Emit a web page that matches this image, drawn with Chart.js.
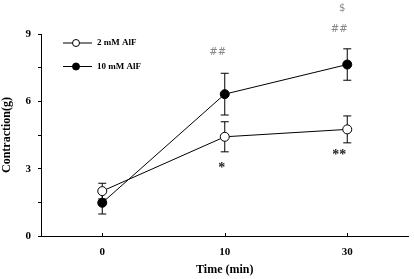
<!DOCTYPE html>
<html>
<head>
<meta charset="utf-8">
<script src="https://cdn.jsdelivr.net/npm/chart.js@4/dist/chart.umd.min.js"></script>
<style>
  html, body { margin: 0; padding: 0; background: #fff; }
  #wrap { width: 414px; height: 279px; }
</style>
</head>
<body>
<div id="wrap"><canvas id="chart" width="414" height="279"></canvas></div>
<script>
const timeLabels = ['0', '10', '30'];
const low = [2.0, 4.42, 4.75];        // 2 mM AlF
const lowErr = [0.35, 0.67, 0.6];
const high = [1.48, 6.32, 7.64];      // 10 mM AlF
const highErr = [0.5, 0.93, 0.7];
const seriesNames = ['2 mM AlF', '10 mM AlF'];

// significance marks: category, value (y units), text, pixel nudge, colour
const marks = [
    { at: '10', y: 8.2, text: '##', dx: -7, dy: 0, color: '#888' },
    { at: '30', y: 9.22, text: '##', dx: -8, dy: 0, color: '#888' },
    { at: '30', y: 10.16, text: '$', dx: -5, dy: 0, color: '#888' },
    { at: '10', y: 3.21, text: '*', dx: -3, dy: 4, color: '#222' },
    { at: '30', y: 3.79, text: '**', dx: -8, dy: 4, color: '#222' }
];

const serif = '"Liberation Serif", "Times New Roman", serif';

const errorBars = {
    id: 'errorBars',
    beforeDatasetsDraw(chart) {
        const { ctx, scales: { x, y } } = chart;
        ctx.save();
        ctx.strokeStyle = '#000';
        ctx.lineWidth = 1;
        chart.data.datasets.forEach(ds => {
            ds.data.forEach((v, i) => {
                const px = x.getPixelForValue(i);
                const top = y.getPixelForValue(v + ds.err[i]);
                const bot = y.getPixelForValue(v - ds.err[i]);
                ctx.beginPath();
                ctx.moveTo(px, top); ctx.lineTo(px, bot);
                ctx.moveTo(px - 4, top); ctx.lineTo(px + 4, top);
                ctx.moveTo(px - 4, bot); ctx.lineTo(px + 4, bot);
                ctx.stroke();
            });
        });
        ctx.restore();
    }
};

const extras = {
    id: 'extras',
    afterDraw(chart) {
        const { ctx, scales: { x, y } } = chart;
        ctx.save();
        // inward ticks on the time axis
        ctx.strokeStyle = '#000';
        ctx.lineWidth = 1;
        timeLabels.forEach((l, i) => {
            const px = Math.round(x.getPixelForValue(i)) + 0.5;
            ctx.beginPath();
            ctx.moveTo(px, y.bottom);
            ctx.lineTo(px, y.bottom - 3);
            ctx.stroke();
        });

        // significance marks
        ctx.textAlign = 'center';
        ctx.textBaseline = 'middle';
        marks.forEach(m => {
            ctx.fillStyle = m.color;
            ctx.font = m.text.includes('*') ? 'bold 14px ' + serif : '10px "DejaVu Sans", sans-serif';
            ctx.fillText(m.text, x.getPixelForValue(timeLabels.indexOf(m.at)) + m.dx,
                y.getPixelForValue(m.y) + m.dy);
        });

        // legend: line with marker, then name
        ctx.textAlign = 'left';
        ctx.font = 'bold 9px ' + serif;
        chart.data.datasets.forEach((ds, i) => {
            const ly = 43 + i * 23.5;
            ctx.strokeStyle = '#000';
            ctx.beginPath();
            ctx.moveTo(63, ly); ctx.lineTo(92, ly);
            ctx.stroke();
            ctx.beginPath();
            ctx.arc(76, ly, 3.5, 0, Math.PI * 2);
            ctx.fillStyle = ds.pointBackgroundColor;
            ctx.fill();
            ctx.stroke();
            ctx.fillStyle = '#000';
            ctx.fillText(ds.label, 97, ly);
        });
        ctx.restore();
    }
};

new Chart(document.getElementById('chart'), {
    type: 'line',
    data: {
        labels: timeLabels,
        datasets: [{
            label: seriesNames[0],
            data: low,
            err: lowErr,
            borderColor: '#000',
            borderWidth: 1,
            pointBackgroundColor: '#fff',
            pointBorderColor: '#000',
            pointBorderWidth: 1,
            pointRadius: 4.5,
            order: 1
        }, {
            label: seriesNames[1],
            data: high,
            err: highErr,
            borderColor: '#000',
            borderWidth: 1,
            pointBackgroundColor: '#000',
            pointBorderColor: '#000',
            pointBorderWidth: 1,
            pointRadius: 4.5,
            order: 0
        }]
    },
    options: {
        responsive: false,
        animation: false,
        layout: { padding: { top: 34, right: 5, bottom: 0, left: 0 } },
        plugins: { legend: { display: false }, tooltip: { enabled: false } },
        scales: {
            x: {
                offset: true,
                grid: { display: false, offset: false, drawTicks: false },
                border: { display: true, color: '#000', width: 1 },
                ticks: { padding: 10, color: '#000', font: { family: serif, size: 11, weight: 'bold' } },
                title: {
                    display: true, text: 'Time (min)', color: '#000',
                    font: { family: serif, size: 12, weight: 'bold' },
                    padding: { top: 0, bottom: 2 }
                },
                afterFit(scale) { scale.height = 43; }
            },
            y: {
                min: 0,
                max: 9,
                grid: { drawOnChartArea: false, tickLength: 3, color: '#000' },
                border: { display: true, color: '#000', width: 1 },
                ticks: {
                    stepSize: 1.5,
                    padding: 7,
                    color: '#000',
                    font: { family: serif, size: 11, weight: 'bold' },
                    callback: v => (v % 3 === 0 ? v : '')
                },
                title: {
                    display: true, text: 'Contraction(g)', color: '#000',
                    font: { family: serif, size: 12, weight: 'bold' },
                    padding: { top: 0, bottom: 0 }
                },
                afterFit(scale) { scale.width = 41; }
            }
        }
    },
    plugins: [errorBars, extras]
});
</script>
</body>
</html>
